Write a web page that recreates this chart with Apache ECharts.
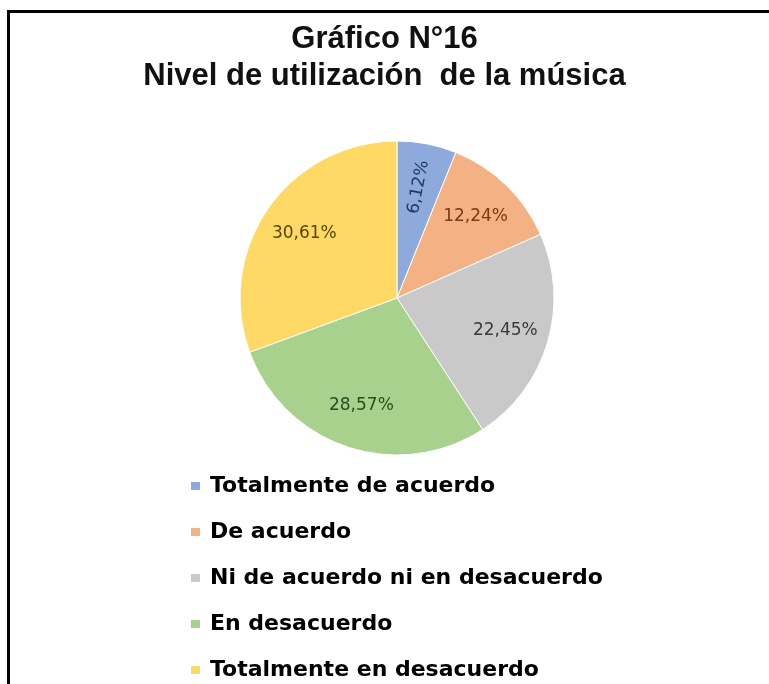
<!DOCTYPE html>
<html>
<head>
<meta charset="utf-8">
<script src="https://cdn.jsdelivr.net/npm/echarts@6/dist/echarts.min.js"></script>
<style>
html,body{margin:0;padding:0;background:#fff;}
#c{width:769px;height:684px;}
</style>
</head>
<body>
<div id="c"></div>
<script>
const titleLines = ['Gráfico N°16', 'Nivel de utilización  de la música'];
const categories = ['Totalmente de acuerdo', 'De acuerdo', 'Ni de acuerdo ni en desacuerdo', 'En desacuerdo', 'Totalmente en desacuerdo'];
const percents = [6.12, 12.24, 22.45, 28.57, 30.61];
const sliceColors = ['#8EA9DB', '#F4B183', '#C9C9C9', '#A9D18E', '#FFD966'];
const labelColors = ['#1F3864', '#7B3A10', '#3A3A3A', '#2E4A1E', '#5A4500'];

const chart = echarts.init(document.getElementById('c'), null, {renderer: 'canvas'});

const baseData = categories.map((n, i) => ({
  name: n, value: percents[i],
  itemStyle: {color: sliceColors[i]}
}));
const labelData = categories.map((n, i) => ({
  name: n, value: percents[i],
  itemStyle: {color: 'rgba(0,0,0,0)'},
  label: {color: labelColors[i], rotate: i === 0 ? 'radial' : 0}
}));

chart.setOption({
  backgroundColor: '#ffffff',
  animation: false,
  title: {
    text: titleLines.join('\n'),
    left: 'center',
    top: 16,
    textStyle: {fontFamily: 'Liberation Sans', fontWeight: 'bold', fontSize: 31, lineHeight: 37, color: '#111'}
  },
  legend: {
    orient: 'vertical',
    left: 189,
    top: 475,
    height: 300,
    padding: 0,
    itemWidth: 11,
    itemHeight: 10,
    itemGap: 24,
    icon: 'rect',
    data: categories,
    textStyle: {fontFamily: 'DejaVu Sans', fontWeight: 'bold', fontSize: 22, lineHeight: 20, color: '#000', padding: [0,0,0,4]}
  },
  graphic: [
    {type: 'line', shape: {x1: 8.5, y1: 11.5, x2: 769, y2: 11.5}, style: {stroke: '#000', lineWidth: 3}, silent: true},
    {type: 'line', shape: {x1: 8.5, y1: 10, x2: 8.5, y2: 684}, style: {stroke: '#000', lineWidth: 3}, silent: true}
  ],
  series: [
    {
      type: 'pie',
      center: [397, 298],
      radius: [0, 157],
      startAngle: 90,
      clockwise: true,
      label: {show: false},
      labelLine: {show: false},
      silent: true,
      itemStyle: {borderColor: '#fff', borderWidth: 1},
      data: baseData
    },
    {
      type: 'pie',
      center: [397, 298],
      radius: [63, 157],
      startAngle: 90,
      clockwise: true,
      silent: true,
      legendHoverLink: false,
      label: {
        show: true,
        position: 'inside',
        formatter: p => p.value.toFixed(2).replace('.', ',') + '%',
        fontFamily: 'DejaVu Sans',
        fontSize: 17
      },
      labelLine: {show: false},
      data: labelData
    }
  ]
});
</script>
</body>
</html>
